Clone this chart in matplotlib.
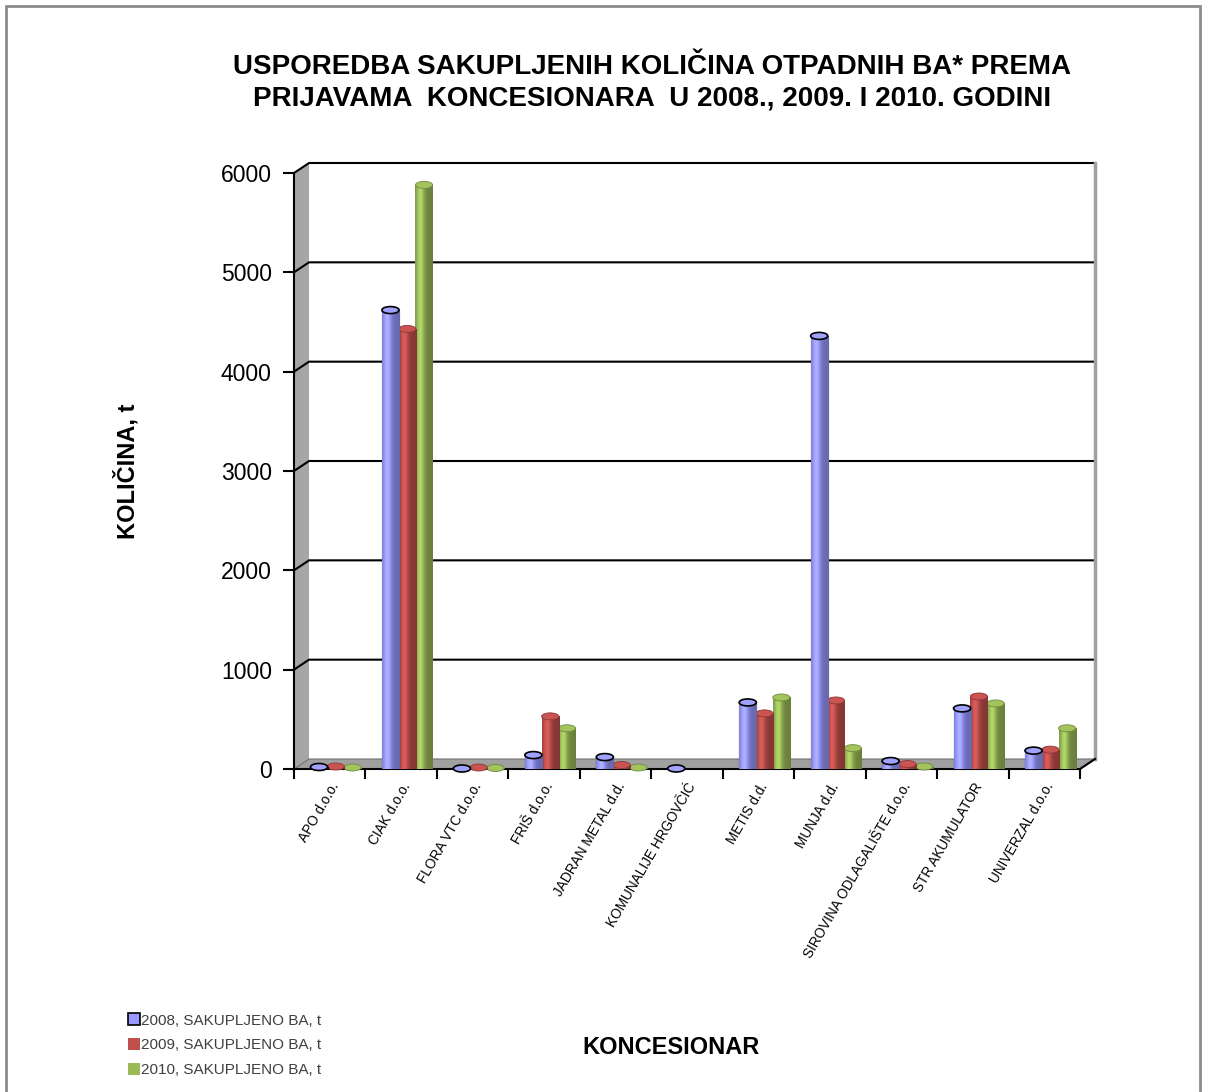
import numpy as np
import matplotlib
matplotlib.use("Agg")
import matplotlib.pyplot as plt
from matplotlib.patches import Polygon, Ellipse, Rectangle
from matplotlib.lines import Line2D

plt.rcParams['font.family'] = ['Liberation Sans', 'DejaVu Sans']

categories = ["APO d.o.o.", "CIAK d.o.o.", "FLORA VTC d.o.o.", "FRIŠ d.o.o.",
              "JADRAN METAL d.d.", "KOMUNALIJE HRGOVČIĆ", "METIS d.d.", "MUNJA d.d.",
              "SIROVINA ODLAGALIŠTE d.o.o.", "STR AKUMULATOR", "UNIVERZAL d.o.o."]
series_names = ["2008, SAKUPLJENO BA, t", "2009, SAKUPLJENO BA, t", "2010, SAKUPLJENO BA, t"]
v2008 = [20, 4620, 5, 140, 120, 5, 670, 4360, 80, 610, 185]
v2009 = [25, 4430, 15, 530, 40, 0, 560, 690, 50, 730, 195]
v2010 = [15, 5880, 10, 410, 15, 0, 720, 210, 25, 660, 410]
yticks = [0, 1000, 2000, 3000, 4000, 5000, 6000]

colors = ["#9999FF", "#C0504D", "#9BBB59"]
edgecols = ["#000000", "#8C3836", "#71893F"]

W, H = 1206, 1092
fig = plt.figure(figsize=(W / 100, H / 100), dpi=100)

# outer border
fig.patches.append(Rectangle((6 / W, -0.01), (1200 - 6) / W, 1 - 6 / H + 0.01,
                             transform=fig.transFigure, fill=False,
                             edgecolor="#8C8C8C", linewidth=2))

x0, x1, ytop, ybot = 294, 1080, 173, 769
ax = fig.add_axes([x0 / W, 1 - ybot / H, (x1 - x0) / W, (ybot - ytop) / H])
n = len(categories)
ax.set_xlim(-0.5, n - 0.5)
ax.set_ylim(0, 6000)
for s in ['top', 'right', 'bottom']:
    ax.spines[s].set_visible(False)
ax.spines['left'].set_linewidth(1.5)

px_x = (x1 - x0) / n
px_y = (ybot - ytop) / 6000
dxu = 15 / px_x
dyu = 10 / px_y

# side wall
ax.add_patch(Polygon([(-0.5, 0), (-0.5, 6000), (-0.5 + dxu, 6000 + dyu), (-0.5 + dxu, dyu)],
                     closed=True, facecolor="#A6A6A6", edgecolor="none", clip_on=False, zorder=0.5))
# floor
ax.add_patch(Polygon([(-0.5, 0), (n - 0.5, 0), (n - 0.5 + dxu, dyu), (-0.5 + dxu, dyu)],
                     closed=True, facecolor="#A0A0A0", edgecolor="#707070", linewidth=0.8,
                     clip_on=False, zorder=0.5))
# gridlines on back wall
for v in yticks[1:]:
    ax.plot([-0.5, -0.5 + dxu, n - 0.5 + dxu], [v, v + dyu, v + dyu], color="black",
            linewidth=1.5, clip_on=False, zorder=0.6)
# right wall edge
ax.plot([n - 0.5 + dxu, n - 0.5 + dxu], [dyu, 6000 + dyu], color="#A0A0A0", linewidth=2.5,
        clip_on=False, zorder=0.6)
# front floor edge
ax.plot([-0.5, n - 0.5, n - 0.5 + dxu], [0, 0, dyu], color="black", linewidth=1.5,
        clip_on=False, zorder=3)

# bars as shaded cylinders
offsets = [-0.15, 0.085, 0.32]
bw = 0.24
xs = np.arange(n)
cap_h = 7 / px_y
prof = np.linspace(0, 1, 64)
shade = 0.78 + 0.4 * np.exp(-((prof - 0.3) / 0.22) ** 2) - 0.1 * prof
all_vals = [v2008, v2009, v2010]
zorders = [4, 3.5, 3]
for si, vals in enumerate(all_vals):
    base = np.array(matplotlib.colors.to_rgb(colors[si]))
    grad = np.clip(base[None, :] * shade[:, None], 0, 1)[None, :, :]
    bars = ax.bar(xs + offsets[si], vals, width=bw, color=colors[si],
                  edgecolor=edgecols[si] if si == 0 else "none",
                  linewidth=0.8, zorder=zorders[si])
    for b, v in zip(bars, vals):
        if v <= 0:
            continue
        im = ax.imshow(grad, extent=[b.get_x(), b.get_x() + bw, 0, v], aspect='auto',
                       zorder=zorders[si] + 0.05, interpolation='bilinear')
        im.set_clip_path(b)
        capcol = np.clip(base * 1.05, 0, 1)
        ax.add_patch(Ellipse((b.get_x() + bw / 2, v), bw, cap_h, facecolor=capcol,
                             edgecolor=edgecols[si], linewidth=1.2 if si == 0 else 0.6,
                             zorder=zorders[si] + 0.1, clip_on=False))
ax.set_xlim(-0.5, n - 0.5)
ax.set_ylim(0, 6000)

# ticks
ax.set_yticks(yticks)
ax.set_yticklabels([str(t) for t in yticks], fontsize=16.5)
ax.tick_params(axis='y', length=8, width=1.5, pad=8)
ax.set_xticks(np.arange(n + 1) - 0.5)
ax.set_xticklabels([])
ax.tick_params(axis='x', which='major', length=7, width=1.5)
ax.set_xticks(xs, minor=True)
ax.set_xticklabels(categories, minor=True, rotation=60, ha='right', va='top',
                   rotation_mode='anchor', fontsize=9.8)
ax.tick_params(axis='x', which='minor', length=0, pad=8)

ax.set_ylabel("KOLIČINA, t", fontsize=17, fontweight='bold', labelpad=0)
ax.yaxis.set_label_coords(-(294 - 140) / (x1 - x0), 0.5)

fig.text(652 / W, 1 - 83 / H,
         "USPOREDBA SAKUPLJENIH KOLIČINA OTPADNIH BA* PREMA\nPRIJAVAMA  KONCESIONARA  U 2008., 2009. I 2010. GODINI",
         ha='center', va='center', fontsize=20, fontweight='bold', linespacing=1.25)
fig.text(671 / W, 1 - 1048 / H, "KONCESIONAR", ha='center', va='center',
         fontsize=17, fontweight='bold')

handles = [Line2D([], [], linestyle='none', marker='s', markersize=8,
                  markerfacecolor=c, markeredgecolor=('black' if i == 0 else c),
                  markeredgewidth=1.2 if i == 0 else 0)
           for i, c in enumerate(colors)]
fig.legend(handles, series_names, loc='upper left', bbox_to_anchor=(120 / W, 1 - 1006 / H),
           frameon=False, fontsize=11, handlelength=0.8, handletextpad=0.1,
           labelspacing=0.7, borderpad=0, labelcolor='#404040')

fig.savefig("out.png", dpi=100)
